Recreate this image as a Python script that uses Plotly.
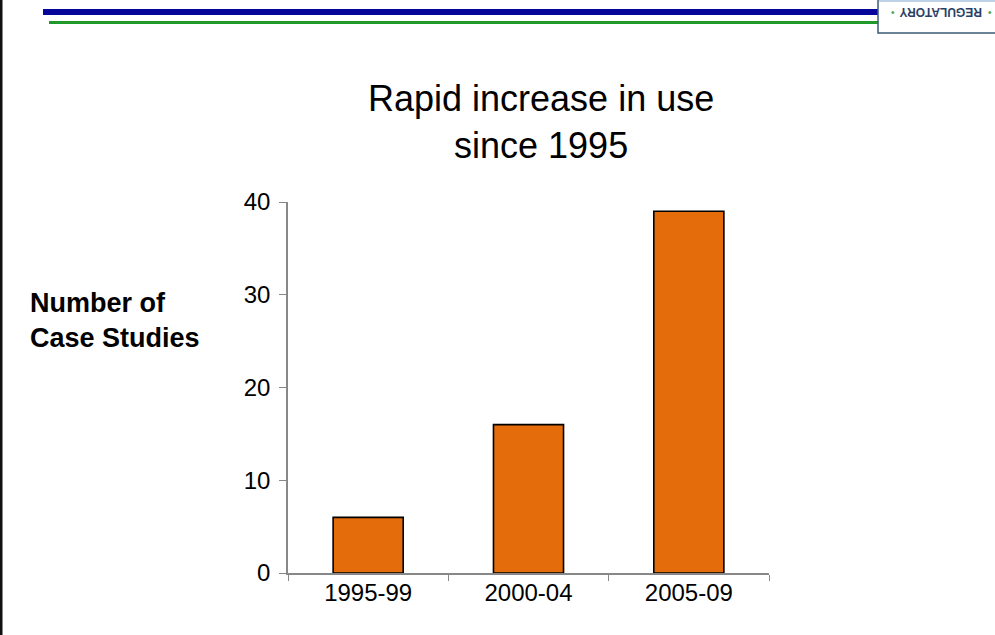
import plotly.graph_objects as go

categories = ["1995-99", "2000-04", "2005-09"]
case_studies = [6, 16, 39]
y_ticks = [0, 10, 20, 30, 40]

W, H = 995, 635
L, R, T, B = 288, 226, 202, 62
PW, PH = W - L - R, H - T - B

def px(x):
    return (x - L) / PW

def py(y):
    return (H - B - y) / PH

FONT = "Liberation Sans, Arial, sans-serif"

fig = go.Figure()
fig.add_trace(go.Bar(
    x=categories, y=case_studies,
    marker=dict(color="#E46C0A", line=dict(color="#000000", width=1.6)),
    width=0.437, hoverinfo="skip",
))

shapes = [
    # left border
    dict(type="rect", xref="paper", yref="paper", x0=px(0), x1=px(2.5), y0=py(0), y1=py(H),
         fillcolor="#111111", line=dict(width=0)),
    # blue header line
    dict(type="rect", xref="paper", yref="paper", x0=px(43), x1=px(878), y0=py(9), y1=py(15),
         fillcolor="#06069A", line=dict(width=0)),
    # green header line
    dict(type="rect", xref="paper", yref="paper", x0=px(49), x1=px(878), y0=py(21), y1=py(24),
         fillcolor="#1F9A2A", line=dict(width=0)),
    # logo box
    dict(type="rect", xref="paper", yref="paper", x0=px(878), x1=px(1000), y0=py(-5), y1=py(33),
         fillcolor="#FFFFFF", line=dict(color="#3C5A78", width=1.5)),
    dict(type="rect", xref="paper", yref="paper", x0=px(879), x1=px(995), y0=py(0), y1=py(2),
         fillcolor="#BFD3E6", line=dict(width=0)),
]

annotations = [
    dict(text="Rapid increase in use<br>since 1995", xref="paper", yref="paper",
         x=px(541), y=py(122), xanchor="center", yanchor="middle", showarrow=False,
         font=dict(family=FONT, size=36, color="#000000"), align="center"),
    dict(text="<b>Number of<br>Case Studies</b>", xref="paper", yref="paper",
         x=px(28), y=py(320), xanchor="left", yanchor="middle", showarrow=False,
         font=dict(family=FONT, size=27, color="#000000"), align="left"),
    dict(text="<b>REGULATORY</b>", xref="paper", yref="paper",
         x=px(941), y=py(12.5), xanchor="center", yanchor="middle", showarrow=False,
         textangle=180, font=dict(family=FONT, size=12, color="#2A3F66")),
    dict(text="•", xref="paper", yref="paper", x=px(990), y=py(12.5), xanchor="center",
         yanchor="middle", showarrow=False, font=dict(family=FONT, size=10, color="#4CA64C")),
    dict(text="•", xref="paper", yref="paper", x=px(893), y=py(12.5), xanchor="center",
         yanchor="middle", showarrow=False, font=dict(family=FONT, size=10, color="#4CA64C")),
]

fig.update_layout(
    width=W, height=H,
    margin=dict(l=L, r=R, t=T, b=B, pad=0),
    paper_bgcolor="#FFFFFF", plot_bgcolor="#FFFFFF",
    showlegend=False, hovermode=False,
    shapes=shapes, annotations=annotations,
    font=dict(family=FONT, color="#000000"),
)
fig.update_xaxes(
    type="category", showgrid=False, showline=True, linecolor="#888888", linewidth=1.5,
    ticks="outside", tickson="boundaries", ticklen=6, tickcolor="#888888", tickwidth=1.2,
    tickfont=dict(family=FONT, size=24, color="#000000"), ticklabelstandoff=-3,
)
fig.update_yaxes(
    range=[0, 40], tickvals=y_ticks, showgrid=False, showline=True, linecolor="#888888",
    linewidth=1.5, ticks="outside", ticklen=7, tickcolor="#888888", tickwidth=1.2,
    tickfont=dict(family=FONT, size=24, color="#000000"), zeroline=False,
    ticklabelstandoff=4,
)

fig.write_html(
    "out.html",
    config={"displayModeBar": False},
    post_script="document.body.style.margin='0';document.body.style.overflow='hidden';",
)
